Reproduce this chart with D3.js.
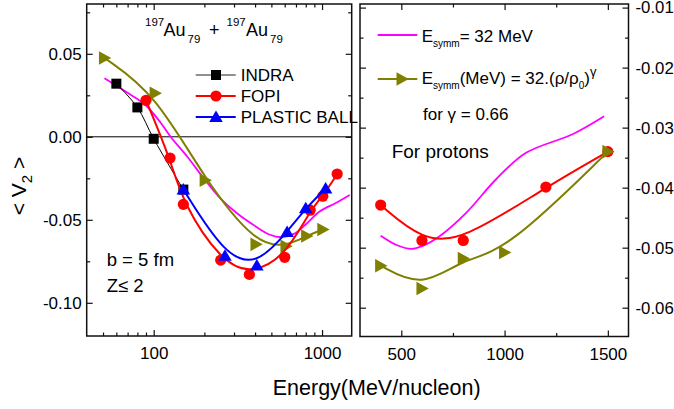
<!DOCTYPE html>
<html><head><meta charset="utf-8">
<script src="https://cdn.jsdelivr.net/npm/d3@7"></script>
<style>
body{margin:0;background:#fff;overflow:hidden}
text{font-family:"Liberation Sans",Arial,Helvetica,sans-serif;fill:#000}
</style>
</head><body>
<svg id="c" width="674" height="409"></svg>
<script>
// ---------- data : left panel (Au+Au, log energy axis) ----------
const indraE = [60, 80, 100, 150];
const indraV = [0.032, 0.0177, -0.0012, -0.0318];
const fopiE  = [90, 125, 150, 250, 370, 600, 850, 1010, 1230];
const fopiV  = [0.022, -0.0128, -0.0407, -0.0743, -0.0829, -0.0726, -0.0442, -0.0358, -0.0224];
const pbE    = [150, 265, 410, 620, 800, 1050];
const pbV    = [-0.0317, -0.0717, -0.0775, -0.0573, -0.0431, -0.0311];
const gamE   = [51, 102, 202, 405, 610, 810, 1010];
const gamV   = [0.0475, 0.0262, -0.0262, -0.0648, -0.066, -0.0598, -0.0558];
const e32E   = [51, 70, 89, 110, 126, 158, 198, 248, 311, 390, 490, 575, 680, 800, 967, 1200, 1460];
const e32V   = [0.0353, 0.0265, 0.0193, 0.0085, 0.0, -0.0119, -0.0249, -0.0369, -0.0459, -0.053, -0.059, -0.0605, -0.0585, -0.0528, -0.045, -0.040, -0.035];

// ---------- data : right panel (protons, linear energy axis) ----------
const fopiPE = [400, 600, 800, 1200, 1500];
const fopiPV = [-0.0429, -0.0488, -0.0488, -0.0399, -0.034];
const gamPE  = [400, 600, 800, 1000, 1500];
const gamPV  = [-0.053, -0.0568, -0.0518, -0.0508, -0.034];
const e32PE  = [400, 480, 548, 604, 685, 814, 959, 1104, 1329, 1482];
const e32PV  = [-0.048, -0.0496, -0.0502, -0.0497, -0.0481, -0.0442, -0.0386, -0.0342, -0.0311, -0.0281];

// ---------- ticks ----------
const lxMajor = [100, 1000];
const lxMinor = [50, 60, 70, 80, 90, 200, 300, 400, 500, 600, 700, 800, 900];
const lyMajor = [-0.10, -0.05, 0, 0.05];
const lyMinor = [-0.075, -0.025, 0.025, 0.075];
const rxMajor = [500, 1000, 1500];
const rxMinor = [750, 1250];
const ryMajor = [-0.06, -0.05, -0.04, -0.03, -0.02, -0.01];
const ryMinor = [-0.055, -0.045, -0.035, -0.025, -0.015];

const svg = d3.select("#c");
const RED = "#ff0000", BLUE = "#0000ff", OLIVE = "#808000", MAG = "#ff00ff";

// panels
const L = {x0: 86.7, x1: 351.7, y0: 4, y1: 336};
const R = {x0: 360, x1: 628.5, y0: 4, y1: 336.5};

const xL = d3.scaleLog().domain([40, 1500]).range([L.x0, L.x1]);
const yL = d3.scaleLinear().domain([-0.12, 0.08]).range([L.y1, L.y0]);
const xR = d3.scaleLinear().domain([300, 1600]).range([R.x0, R.x1]);
const yR = d3.scaleLinear().domain([-0.0648, -0.0094]).range([R.y1, R.y0]);

const fmt = v => v.toFixed(2);

function axes(P, x, y, xMaj, xMin, yMaj, yMin, leftLabels, rightLabels) {
  const g = svg.append("g");
  const add = (axis, tx, ty, labels, size) => {
    const a = g.append("g").attr("transform", `translate(${tx},${ty})`).call(axis);
    a.select(".domain").remove();
    a.selectAll("line").attr("stroke", "#111").attr("stroke-width", 1.2);
    a.selectAll("text").style("font-size", (size || 17) + "px").attr("fill", "#000");
    if (!labels) a.selectAll("text").remove();
    return a;
  };
  // bottom
  add(d3.axisBottom(x).tickValues(xMaj).tickSize(-6).tickPadding(11).tickFormat(d3.format("d")), 0, P.y1, true);
  add(d3.axisBottom(x).tickValues(xMin).tickSize(-3.5).tickFormat(""), 0, P.y1, false);
  // top
  add(d3.axisTop(x).tickValues(xMaj).tickSize(-6).tickFormat(""), 0, P.y0, false);
  add(d3.axisTop(x).tickValues(xMin).tickSize(-3.5).tickFormat(""), 0, P.y0, false);
  // left
  add(d3.axisLeft(y).tickValues(yMaj).tickSize(-6).tickPadding(5).tickFormat(fmt), P.x0, 0, leftLabels);
  add(d3.axisLeft(y).tickValues(yMin).tickSize(-3.5).tickFormat(""), P.x0, 0, false);
  // right
  add(d3.axisRight(y).tickValues(yMaj).tickSize(-6).tickPadding(7).tickFormat(fmt), P.x1, 0, rightLabels, 16.8);
  add(d3.axisRight(y).tickValues(yMin).tickSize(-3.5).tickFormat(""), P.x1, 0, false);
  // frame
  g.append("rect").attr("x", P.x0).attr("y", P.y0).attr("width", P.x1 - P.x0).attr("height", P.y1 - P.y0)
    .attr("fill", "none").attr("stroke", "#111").attr("stroke-width", 1.5);
}

axes(L, xL, yL, lxMajor, lxMinor, lyMajor, lyMinor, true, false);
axes(R, xR, yR, rxMajor, rxMinor, ryMajor, ryMinor, false, true);

// zero line on left panel
svg.append("line").attr("x1", L.x0).attr("x2", L.x1).attr("y1", yL(0)).attr("y2", yL(0))
  .attr("stroke", "#000").attr("stroke-width", 1);

// marker shapes
const SHAPE = {
  square: "M-5,-5H5V5H-5Z",
  circle: d3.symbol(d3.symbolCircle, Math.PI * 5.6 * 5.6)(),
  up: "M0,-6.5L6.8,5L-6.8,5Z",
  right: "M6.8,0L-5.5,-6.8L-5.5,6.8Z"
};

function series(x, y, E, V, color, width, curve, shape) {
  const pts = E.map((e, i) => [x(e), y(V[i])]);
  svg.append("path").attr("d", d3.line().curve(curve)(pts))
    .attr("fill", "none").attr("stroke", color).attr("stroke-width", width);
  if (shape) {
    svg.append("g").selectAll("path").data(pts).join("path")
      .attr("d", SHAPE[shape]).attr("transform", d => `translate(${d[0]},${d[1]})`)
      .attr("fill", color);
  }
}

// left panel series
series(xL, yL, e32E, e32V, MAG, 1.8, d3.curveCatmullRom, null);
series(xL, yL, gamE, gamV, OLIVE, 2, d3.curveBasis, "right");
series(xL, yL, indraE, indraV, "#000", 1, d3.curveCatmullRom, "square");
series(xL, yL, fopiE, fopiV, RED, 2, d3.curveBasis, "circle");
series(xL, yL, pbE, pbV, BLUE, 2, d3.curveBasis, "up");

// right panel series
series(xR, yR, e32PE, e32PV, MAG, 1.8, d3.curveCatmullRom, null);
series(xR, yR, fopiPE, fopiPV, RED, 2, d3.curveBasis, "circle");
series(xR, yR, gamPE, gamPV, OLIVE, 2, d3.curveBasis, "right");

// ---------- left legend ----------
const legL = [
  {name: "INDRA", color: "#222", w: 1.2, shape: "square", fill: "#000", y: 75},
  {name: "FOPI", color: RED, w: 2, shape: "circle", fill: RED, y: 96},
  {name: "PLASTIC BALL", color: BLUE, w: 2, shape: "up", fill: BLUE, y: 117}
];
legL.forEach(d => {
  svg.append("line").attr("x1", 195.7).attr("x2", 235.7).attr("y1", d.y).attr("y2", d.y)
    .attr("stroke", d.color).attr("stroke-width", d.w);
  svg.append("path").attr("d", SHAPE[d.shape]).attr("transform", `translate(216,${d.y})`).attr("fill", d.fill);
  svg.append("text").attr("x", 240.7).attr("y", d.y + 6).style("font-size", "17px").text(d.name);
});

// title 197Au79 + 197Au79
const title = svg.append("text").attr("y", 36).style("font-size", "18px");
[["197", 145, 26, 11.5], ["Au", 163.5, 36, 18], ["79", 187.5, 43.3, 11.5], ["+", 209, 36, 18],
 ["197", 226.5, 26, 11.5], ["Au", 246, 36, 18], ["79", 270, 43.3, 11.5]].forEach(p => {
  title.append("tspan").attr("x", p[1]).attr("y", p[2]).style("font-size", p[3] + "px").text(p[0]);
});

svg.append("text").attr("x", 106.7).attr("y", 266).style("font-size", "18.5px").text("b = 5 fm");
svg.append("text").attr("x", 106.7).attr("y", 291.7).style("font-size", "18.5px").text("Z\u2264 2");

// ---------- right legend ----------
svg.append("line").attr("x1", 377.7).attr("x2", 417.3).attr("y1", 35).attr("y2", 35)
  .attr("stroke", MAG).attr("stroke-width", 1.8);
const t1 = svg.append("text").attr("x", 421.7).attr("y", 41.7).style("font-size", "17px");
t1.append("tspan").text("E");
t1.append("tspan").attr("dy", 5).style("font-size", "10px").text("symm");
t1.append("tspan").attr("dy", -5).text("= 32 MeV");

svg.append("line").attr("x1", 377.7).attr("x2", 417.3).attr("y1", 79).attr("y2", 79)
  .attr("stroke", OLIVE).attr("stroke-width", 2);
svg.append("path").attr("d", SHAPE.right).attr("transform", "translate(402,79)").attr("fill", OLIVE);
const t2 = svg.append("text").attr("x", 421.7).attr("y", 84.3).style("font-size", "17px");
t2.append("tspan").text("E");
t2.append("tspan").attr("dy", 5).style("font-size", "10px").text("symm");
t2.append("tspan").attr("dy", -5).text("(MeV) = 32.(\u03c1/\u03c1");
t2.append("tspan").attr("dy", 5).style("font-size", "10px").text("0");
t2.append("tspan").attr("dy", -5).text(")");
t2.append("tspan").attr("dy", -8).style("font-size", "13px").text("\u03b3");

svg.append("text").attr("x", 423).attr("y", 120).style("font-size", "17px").text("for \u03b3 = 0.66");
svg.append("text").attr("x", 391.7).attr("y", 158.3).style("font-size", "19px").text("For protons");

// ---------- axis titles ----------
svg.append("text").attr("x", 376.7).attr("y", 395).attr("text-anchor", "middle")
  .style("font-size", "21.5px").text("Energy(MeV/nucleon)");
const yt = svg.append("text").attr("transform", "translate(26,186) rotate(-90)")
  .attr("text-anchor", "middle").style("font-size", "21px");
yt.append("tspan").text("< V");
yt.append("tspan").attr("dy", 6).style("font-size", "15px").text("2");
yt.append("tspan").attr("dy", -6).text(" >");
</script>
</body></html>
